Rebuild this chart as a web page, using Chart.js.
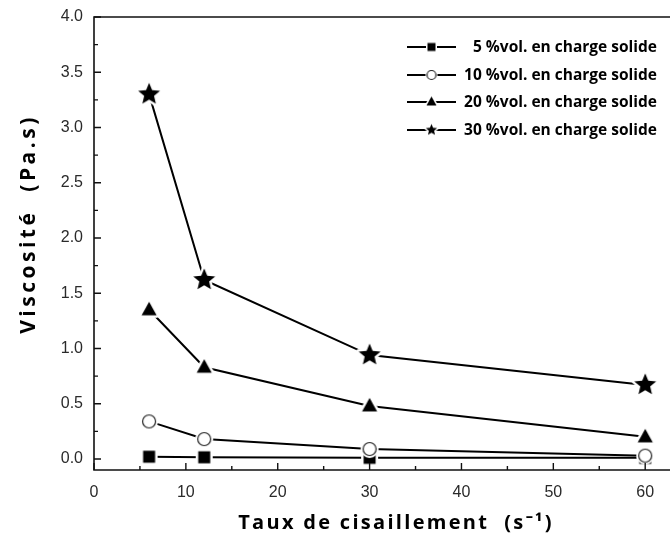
<!DOCTYPE html>
<html>
<head>
<meta charset="utf-8">
<script src="https://cdn.jsdelivr.net/npm/chart.js@4.4.0/dist/chart.umd.min.js"></script>
<style>
html, body { margin: 0; padding: 0; background: #fff; overflow: hidden; }
</style>
</head>
<body>
<canvas id="chart" width="670" height="537"></canvas>
<script>
// data
const shearRates = [6, 12, 30, 60]
const visc5 = [0.02, 0.015, 0.01, 0.01]
const visc10 = [0.34, 0.18, 0.09, 0.03]
const visc20 = [1.35, 0.83, 0.48, 0.20]
const visc30 = [3.30, 1.62, 0.94, 0.67]
const seriesLabels = [
    '5 %vol. en charge solide',
    '10 %vol. en charge solide',
    '20 %vol. en charge solide',
    '30 %vol. en charge solide'
]
const xTicks = [0, 10, 20, 30, 40, 50, 60]
const yTicks = [0, 0.5, 1.0, 1.5, 2.0, 2.5, 3.0, 3.5, 4.0]
const xTitle = 'Taux de cisaillement  (s\u207B\u00B9)'
const yTitle = 'Viscosité  (Pa.s)'

function shapePath(ctx, shape, c, s){
    ctx.beginPath()
    if(shape == 'square'){
        ctx.rect(c - s/2, c - s/2, s, s)
    }
    else if(shape == 'circle'){
        ctx.arc(c, c, s/2, 0, Math.PI*2)
    }
    else if(shape == 'triangle'){
        let h = s*0.9
        ctx.moveTo(c, c - h*0.6)
        ctx.lineTo(c + s/2, c + h*0.4)
        ctx.lineTo(c - s/2, c + h*0.4)
        ctx.closePath()
    }
    else if(shape == 'star'){
        let R = s/2, r = R*0.45
        for(let i=0; i<10; i++){
            let a = -Math.PI/2 + i*Math.PI/5
            let rad = i%2==0 ? R : r
            let px = c + rad*Math.cos(a), py = c + rad*Math.sin(a)
            i==0 ? ctx.moveTo(px, py) : ctx.lineTo(px, py)
        }
        ctx.closePath()
    }
}

function makeMarker(shape, size, halo){
    let cv = document.createElement('canvas')
    let dim = Math.ceil(size + halo*2 + 4)
    cv.width = dim
    cv.height = dim
    let ctx = cv.getContext('2d')
    let c = dim/2
    shapePath(ctx, shape, c, size)
    ctx.lineJoin = 'round'
    if(halo > 0){
        ctx.strokeStyle = '#fff'
        ctx.lineWidth = halo*2
        ctx.stroke()
    }
    if(shape == 'circle'){
        ctx.fillStyle = '#fff'
        ctx.fill()
        ctx.strokeStyle = '#222'
        ctx.lineWidth = 1.2
        ctx.stroke()
    }
    else{
        ctx.fillStyle = '#000'
        ctx.fill()
    }
    return cv
}

const shapes = ['square', 'circle', 'triangle', 'star']
const plotSizes = [12, 13, 15, 23]
const legendSizes = [8, 9, 10, 12]
const plotMarkers = shapes.map((s, i) => makeMarker(s, plotSizes[i], 2.5))
const legendMarkers = shapes.map((s, i) => makeMarker(s, legendSizes[i], 1.5))

const seriesValues = [visc5, visc10, visc20, visc30]

// later series drawn on top (circle hides square at 60)
const datasets = seriesValues.map((vals, i) => ({
    label: seriesLabels[i],
    data: shearRates.map((x, j) => ({x: x, y: vals[j]})),
    order: seriesValues.length - 1 - i,
    borderColor: '#000',
    borderWidth: 2,
    pointStyle: plotMarkers[i],
    pointRadius: 8,
    pointHoverRadius: 8,
    fill: false,
    tension: 0
}))

// frame (right side is cut off in the original) and inward ticks
const frameTicks = {
    id: 'frameTicks',
    afterDatasetsDraw(chart){
        let ctx = chart.ctx
        let a = chart.chartArea
        let xs = chart.scales.x, ys = chart.scales.y
        ctx.save()
        ctx.strokeStyle = '#111'
        ctx.lineWidth = 1.6
        ctx.beginPath()
        ctx.moveTo(chart.width + 5, a.top)
        ctx.lineTo(a.left, a.top)
        ctx.lineTo(a.left, a.bottom)
        ctx.lineTo(chart.width + 5, a.bottom)
        ctx.stroke()
        ctx.lineWidth = 1.4
        ctx.beginPath()
        for(let v=0; v<=60; v+=5){
            let px = xs.getPixelForValue(v)
            let len = v%10==0 ? 7 : 4
            ctx.moveTo(px, a.bottom)
            ctx.lineTo(px, a.bottom - len)
        }
        for(let v=0; v<=4.0001; v+=0.25){
            let py = ys.getPixelForValue(v)
            let len = Math.abs(v*2 - Math.round(v*2)) < 0.01 ? 7 : 4
            ctx.moveTo(a.left, py)
            ctx.lineTo(a.left + len, py)
        }
        ctx.stroke()
        ctx.restore()
    }
}

// legend and axis titles drawn by hand
const boxLegend = {
    id: 'boxLegend',
    afterDraw(chart){
        let ctx = chart.ctx
        let a = chart.chartArea
        let rows = [47, 75, 102, 130]
        let textRight = 657
        ctx.save()
        ctx.font = 'bold 15.5px "Open Sans"'
        ctx.textAlign = 'right'
        ctx.textBaseline = 'middle'
        ctx.fillStyle = '#000'
        seriesLabels.forEach((lab, i) => {
            let y = rows[i]
            let lx0 = a.left + 313, lx1 = a.left + 362
            ctx.strokeStyle = '#000'
            ctx.lineWidth = 2
            ctx.beginPath()
            ctx.moveTo(lx0, y)
            ctx.lineTo(lx1, y)
            ctx.stroke()
            let m = legendMarkers[i]
            let mx = (lx0 + lx1)/2
            ctx.drawImage(m, mx - m.width/2, y - m.height/2)
            ctx.fillText(lab, textRight, y + 1)
        })

        ctx.font = 'bold 20px "Open Sans"'
        ctx.letterSpacing = '2.3px'
        ctx.textAlign = 'center'
        ctx.fillText(xTitle, 396, 523)
        ctx.font = 'bold 21px "Open Sans"'
        ctx.letterSpacing = '3.5px'
        ctx.translate(29, 224)
        ctx.rotate(-Math.PI/2)
        ctx.fillText(yTitle, 0, 0)
        ctx.restore()
    }
}

new Chart(document.querySelector('#chart'), {
    type: 'line',
    data: { datasets: datasets },
    options: {
        responsive: false,
        animation: false,
        devicePixelRatio: 1,
        layout: { autoPadding: false, padding: { top: 17, right: 0, left: 0, bottom: 0 } },
        plugins: {
            legend: { display: false },
            tooltip: { enabled: false }
        },
        scales: {
            x: {
                type: 'linear',
                min: 0,
                max: 62.7,
                afterBuildTicks: (scale) => { scale.ticks = xTicks.map(v => ({value: v})) },
                afterFit: (scale) => { scale.height = 67; scale.paddingRight = 0; scale.paddingLeft = 0 },
                grid: { display: false, drawTicks: false },
                border: { display: false },
                ticks: {
                    color: '#2a2a2a',
                    font: { family: '"Liberation Sans", Arial', size: 16 },
                    padding: 13,
                    maxRotation: 0
                }
            },
            y: {
                type: 'linear',
                min: -0.1,
                max: 4.0,
                afterBuildTicks: (scale) => { scale.ticks = yTicks.map(v => ({value: v})) },
                afterFit: (scale) => { scale.width = 94; scale.paddingTop = 0; scale.paddingBottom = 0 },
                grid: { display: false, drawTicks: false },
                border: { display: false },
                ticks: {
                    color: '#2a2a2a',
                    font: { family: '"Liberation Sans", Arial', size: 16 },
                    padding: 11,
                    callback: (v) => Number(v).toFixed(1)
                }
            }
        }
    },
    plugins: [frameTicks, boxLegend]
})
</script>
</body>
</html>
